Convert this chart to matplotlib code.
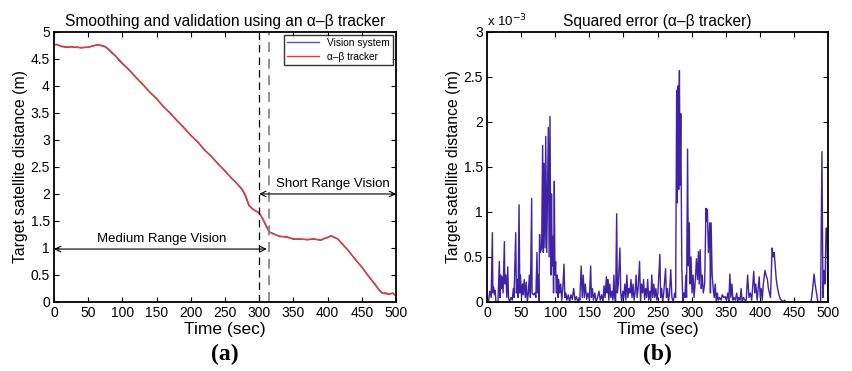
"""Alpha-beta tracker: distance and squared error panels."""

import matplotlib
matplotlib.use("Agg")
import matplotlib.pyplot as plt
from matplotlib.ticker import FormatStrFormatter, MultipleLocator

plt.rcParams["font.family"] = ["Liberation Sans", "DejaVu Sans"]

# panel (a): distance (m) over time (sec)
dist_t = [0, 5, 10, 15, 20, 25, 30, 35, 40, 45, 50, 55, 60, 65, 70, 75, 80, 85, 90, 95,
          100, 110, 120, 130, 140, 150, 160, 170, 180, 190, 200, 210, 220, 230, 240, 250,
          260, 265, 270, 275, 280, 285, 290, 295, 300, 305, 310, 315, 320, 330, 340, 350,
          360, 370, 380, 390, 395, 400, 405, 410, 415, 420, 430, 440, 450, 460, 470, 475,
          480, 485, 490, 495, 500]
tracker = [4.77, 4.76, 4.74, 4.73, 4.72, 4.72, 4.72, 4.71, 4.71, 4.71, 4.72, 4.73, 4.75, 4.76,
           4.75, 4.73, 4.68, 4.62, 4.55, 4.49, 4.42, 4.29, 4.16, 4.02, 3.89, 3.76, 3.62, 3.49,
           3.36, 3.22, 3.09, 2.96, 2.82, 2.69, 2.56, 2.42, 2.29, 2.22, 2.16, 2.09, 1.98, 1.80,
           1.72, 1.69, 1.64, 1.55, 1.42, 1.30, 1.26, 1.22, 1.20, 1.17, 1.16, 1.16, 1.16, 1.15,
           1.17, 1.20, 1.22, 1.20, 1.16, 1.10, 0.95, 0.80, 0.64, 0.48, 0.32, 0.23, 0.17, 0.15,
           0.15, 0.16, 0.12]
vision = [4.76, 4.77, 4.73, 4.72, 4.71, 4.73, 4.71, 4.72, 4.70, 4.72, 4.71, 4.74, 4.75, 4.77,
          4.74, 4.72, 4.67, 4.60, 4.56, 4.47, 4.41, 4.30, 4.15, 4.03, 3.88, 3.77, 3.61, 3.50,
          3.35, 3.23, 3.08, 2.97, 2.81, 2.70, 2.55, 2.43, 2.28, 2.23, 2.15, 2.08, 1.95, 1.78,
          1.73, 1.68, 1.65, 1.54, 1.40, 1.29, 1.27, 1.21, 1.21, 1.16, 1.17, 1.15, 1.17, 1.14,
          1.18, 1.19, 1.23, 1.19, 1.17, 1.09, 0.96, 0.79, 0.65, 0.47, 0.31, 0.22, 0.16, 0.17,
          0.14, 0.17, 0.11]

# panel (b): squared error (x 1e-3 m), one row of err_t per row of err_v
err_t = [0, 2, 4, 6, 7.8, 8.5, 9.5, 11, 12, 13,
         16, 18, 19, 20, 21, 22, 23.5, 25.4, 26, 27.5,
         29, 30.3, 31.5, 33, 35, 37, 38.5, 39.5, 42, 43,
         44, 45.5, 46.9, 48, 49, 50.5, 52, 53, 54.5, 56,
         57.5, 59, 60.5, 62, 63.5, 65.4, 66, 68, 70, 71.5,
         73.2, 74, 75, 76, 77, 78, 80, 81.5, 82.5, 83.5,
         85, 86, 87.5, 89.8, 91, 92.3, 93.5, 94.5, 95.5, 96.5,
         97.5, 98.6, 99.5, 100.5, 101.5, 103, 104, 105, 106.5, 108,
         109.5, 111, 112.8, 114, 115.5, 117, 119, 121, 123, 125,
         127, 129, 131, 133, 135, 136, 138, 139.5, 141, 142.5,
         144, 146, 148, 150, 151.9, 153, 154.5, 156, 158, 160,
         162, 164, 166, 168, 170, 171.5, 173, 175, 176, 177,
         178.5, 180, 181.5, 183, 184.5, 186, 187, 188.5, 190, 191,
         192.5, 194.8, 196, 197.5, 199, 200.5, 202, 203.5, 205, 206.5,
         208, 209.5, 211, 212.5, 214, 215.5, 217, 218.5, 220, 221.5,
         223.6, 225, 226.5, 228, 229.5, 231, 232.5, 234, 235.5, 237,
         238.5, 240, 241.5, 243, 244.5, 246, 247.5, 249, 250.5, 253.4,
         254.5, 256, 257.5, 259, 261.7, 263, 264.5, 266, 267.5, 269.3,
         271, 273, 275, 276.5, 278, 279, 280, 281, 282, 283,
         284, 285.5, 287, 288.5, 290, 291.5, 292.5, 294, 295, 296.5,
         297.5, 299, 300.5, 302, 303.5, 305, 307, 308.5, 310, 311,
         312.5, 314, 315.5, 317, 319, 321, 322, 323, 324.5, 326.5,
         327.5, 328.5, 330, 331.5, 333, 334.5, 336, 337.5, 339, 341,
         343, 345, 347, 349, 351, 353, 354.5, 356, 357.5, 359,
         360.5, 362, 364, 366, 367.5, 369, 371, 372.5, 374, 376,
         378, 380, 382, 384, 386, 388, 391, 392.5, 394, 396,
         399, 400.5, 402, 403.5, 405, 407.5, 409, 411, 412.5, 414,
         415.5, 418, 419.5, 421, 422.5, 424, 426, 428, 430, 432,
         434, 436, 438, 450, 470, 475, 477, 479.5, 481, 483,
         485, 489, 491, 492.5, 494, 495.5, 497, 498.5, 499.5]
err_v = [0.05, 0.0, 0.12, 0.05, 0.77, 0.10, 0.17, 0.08, 0.13, 0.0,
         0.0, 0.45, 0.05, 0.30, 0.15, 0.28, 0.10, 0.67, 0.20, 0.30,
         0.05, 0.39, 0.05, 0.0, 0.05, 0.02, 0.15, 0.05, 0.77, 0.10,
         0.25, 0.05, 1.08, 0.10, 0.30, 0.05, 0.20, 0.08, 0.25, 0.05,
         0.22, 0.0, 0.10, 0.30, 0.05, 1.15, 0.10, 0.08, 0.10, 0.05,
         0.55, 0.10, 0.30, 0.0, 0.75, 0.55, 0.60, 1.74, 0.55, 1.54,
         0.60, 1.84, 0.55, 1.94, 0.50, 2.06, 0.30, 1.20, 0.40, 0.73,
         0.10, 1.34, 0.30, 0.45, 0.10, 0.30, 0.05, 0.25, 0.10, 0.20,
         0.02, 0.15, 0.42, 0.05, 0.10, 0.02, 0.08, 0.0, 0.08, 0.03,
         0.15, 0.02, 0.06, 0.0, 0.05, 0.02, 0.40, 0.05, 0.30, 0.05,
         0.20, 0.03, 0.10, 0.02, 0.40, 0.05, 0.15, 0.02, 0.10, 0.0,
         0.05, 0.12, 0.02, 0.08, 0.0, 0.18, 0.05, 0.28, 0.10, 0.25,
         0.02, 0.20, 0.05, 0.12, 0.02, 0.30, 0.05, 0.0, 0.98, 0.10,
         0.20, 0.60, 0.10, 0.0, 0.12, 0.05, 0.20, 0.02, 0.30, 0.05,
         0.15, 0.10, 0.25, 0.05, 0.20, 0.02, 0.10, 0.30, 0.05, 0.15,
         0.45, 0.0, 0.20, 0.10, 0.25, 0.03, 0.15, 0.05, 0.25, 0.02,
         0.12, 0.0, 0.30, 0.05, 0.20, 0.05, 0.15, 0.02, 0.10, 0.53,
         0.05, 0.15, 0.0, 0.10, 0.37, 0.05, 0.15, 0.0, 0.10, 0.36,
         0.05, 0.0, 0.10, 0.05, 2.35, 1.10, 2.40, 1.25, 2.57, 1.30,
         2.09, 0.40, 0.0, 0.10, 0.05, 0.30, 0.05, 1.70, 0.40, 0.88,
         0.20, 0.50, 0.10, 0.30, 0.05, 0.20, 0.48, 0.25, 0.56, 0.20,
         0.58, 0.15, 0.30, 0.10, 0.20, 1.04, 0.90, 1.03, 0.55, 0.88,
         0.10, 0.88, 0.30, 0.15, 0.05, 0.20, 0.0, 0.10, 0.02, 0.05,
         0.02, 0.08, 0.05, 0.06, 0.02, 0.10, 0.0, 0.31, 0.05, 0.20,
         0.02, 0.05, 0.02, 0.10, 0.0, 0.05, 0.02, 0.15, 0.0, 0.05,
         0.02, 0.02, 0.30, 0.05, 0.10, 0.02, 0.34, 0.10, 0.20, 0.02,
         0.28, 0.05, 0.15, 0.02, 0.20, 0.35, 0.30, 0.25, 0.15, 0.10,
         0.05, 0.60, 0.50, 0.55, 0.40, 0.25, 0.15, 0.08, 0.03, 0.02,
         0.0, 0.02, 0.0, 0.0, 0.0, 0.0, 0.12, 0.31, 0.20, 0.10,
         0.0, 0.0, 1.67, 0.05, 0.35, 0.20, 0.82, 0.82, 0.05]

switch_medium = 300
switch_short = 314


def style_axes(ax, ymax, ystep):
    ax.set_xlim(0, 500)
    ax.set_ylim(0, ymax)
    ax.xaxis.set_major_locator(MultipleLocator(50))
    ax.yaxis.set_major_locator(MultipleLocator(ystep))
    ax.yaxis.set_major_formatter(FormatStrFormatter("%g"))
    ax.tick_params(direction="in", top=True, right=True, length=3.5, width=0.8,
                   labelsize=10, pad=3)
    for spine in ax.spines.values():
        spine.set_linewidth(1.3)
    ax.set_xlabel("Time (sec)", fontsize=12.5, labelpad=1)
    ax.set_ylabel("Target satellite distance (m)", fontsize=11.3, labelpad=2)


fig = plt.figure(figsize=(8.53, 3.71), dpi=100)
ax1 = fig.add_axes([0.0633, 0.186, 0.401, 0.728])
ax2 = fig.add_axes([0.571, 0.186, 0.3998, 0.728])

# (a) distance
ax1.plot(dist_t, vision, color="#5a4fd0", lw=1.0, label="Vision system")
ax1.plot(dist_t, tracker, color="#f03a1a", lw=1.0, label="α–β tracker")
ax1.axvline(switch_medium, color="black", lw=0.9, ls=(0, (6, 4)))
ax1.axvline(switch_short, color="#808080", lw=1.2, ls=(0, (6, 4)))
style_axes(ax1, 5, 0.5)
ax1.set_title("Smoothing and validation using an α–β tracker", fontsize=11.2, pad=4)
leg = ax1.legend(loc="upper right", fontsize=7.3, frameon=True, fancybox=False,
                 edgecolor="black", borderpad=0.3, handlelength=3.2, labelspacing=0.4,
                 borderaxespad=0.3)
leg.get_frame().set_linewidth(1.0)

arrow = dict(arrowstyle="<->", color="black", lw=0.8, shrinkA=0, shrinkB=0)
ax1.annotate("", xy=(0, 0.98), xytext=(311, 0.98), arrowprops=arrow)
ax1.text(158, 1.05, "Medium Range Vision", ha="center", va="bottom", fontsize=9.5)
ax1.annotate("", xy=(300, 2.0), xytext=(500, 2.0), arrowprops=arrow)
ax1.text(408, 2.08, "Short Range Vision", ha="center", va="bottom", fontsize=9.5)
fig.text(0.2635, 0.015, "(a)", ha="center", va="bottom", fontsize=17,
         fontweight="bold", family="Liberation Serif")

# (b) squared error
ax2.plot(err_t, err_v, color="#3f22a6", lw=1.0)
style_axes(ax2, 3, 0.5)
ax2.set_title("Squared error (α–β tracker)", fontsize=11.2, pad=4)
ax2.text(0.0, 1.01, "x 10$^{-3}$", transform=ax2.transAxes, ha="left", va="bottom",
         fontsize=9.5)
fig.text(0.771, 0.015, "(b)", ha="center", va="bottom", fontsize=17,
         fontweight="bold", family="Liberation Serif")

fig.savefig("out.png", dpi=100)
plt.close(fig)
